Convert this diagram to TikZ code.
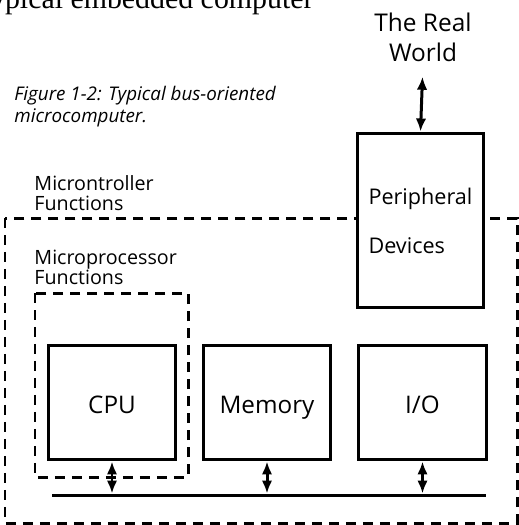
\documentclass[tikz,border=0pt]{standalone}
\usepackage{fontspec}
\setmainfont{Open Sans}
\newfontfamily\headfont{Liberation Serif}
\usetikzlibrary{arrows.meta}

\begin{document}
\begin{tikzpicture}
  [x=0.02cm,y=-0.02cm,line width=0.06cm,
   solidbox/.style={draw,fill=white,font=\fontsize{13.8}{16}\selectfont},
   unit/.style={solidbox,minimum width=2.56cm,minimum height=2.3cm,text height=0.43cm,text depth=0cm},
   funcs/.style={anchor=north west,inner sep=0,align=left,font=\fontsize{11.2}{11.4}\selectfont},
   dashbox/.style={dash pattern=on 0.2cm off 0.14cm},
   link/.style={{Latex[length=0.26cm,width=0.21cm]}-{Latex[length=0.26cm,width=0.21cm]}}]
  \useasboundingbox (0,0) rectangle (519,525);

  \node[anchor=base east,inner sep=0,font=\headfont\fontsize{17}{18}\selectfont] (head) at (315,8) {Typical embedded computer};
  \node[anchor=north west,inner sep=0,align=left,font=\itshape\fontsize{10.7}{12.5}\selectfont] (caption) at (13,85) {Figure 1-2: Typical bus-oriented\\microcomputer.};

  \draw[dashbox] (5,218) rectangle (517,523);
  \draw[dashbox] (35,293) rectangle (188,477);
  \node[funcs] (mcu) at (33,174) {Microntroller\\Functions};
  \node[funcs] (mpu) at (33,249) {Microprocessor\\Functions};

  \node[solidbox,minimum width=2.54cm,minimum height=3.5cm,align=left,font=\fontsize{12.3}{28}\selectfont] (periph) at (420.5,220.5) {Peripheral\\Devices};
  \node[anchor=north,inner sep=0,align=center,font=\fontsize{13.9}{17.6}\selectfont] (world) at (423,11) {The Real\\World};
  \node[unit] (cpu) at (112,402.5) {CPU};
  \node[unit] (mem) at (267,402.5) {Memory};
  \node[unit] (io) at (422.5,402.5) {I/O};
  \coordinate (busl) at (52,495);
  \coordinate (busr) at (486,495);

  \draw (busl) -- (busr);
  \draw[link,shorten <=0.26cm] (world.south) -- (periph.north);
  \foreach \blk in {cpu,mem,io}
    \draw[link,shorten >=0.03cm] (\blk.south) -- (\blk.south |- busl);

\end{tikzpicture}
\end{document}
